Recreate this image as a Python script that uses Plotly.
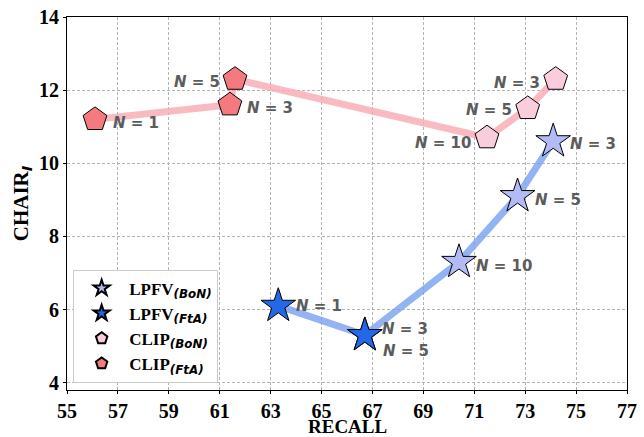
import plotly.graph_objects as go

# ---- data ----
lpfv_bon_recall = [70.4, 72.7, 74.1]
lpfv_bon_chair = [7.3, 9.1, 10.6]
lpfv_bon_n = [10, 5, 3]

lpfv_fta_recall = [63.3, 66.7, 66.7]
lpfv_fta_chair = [6.1, 5.3, 5.3]
lpfv_fta_n = [1, 3, 5]

clip_bon_recall = [71.5, 73.1, 74.2]
clip_bon_chair = [10.7, 11.5, 12.3]
clip_bon_n = [10, 5, 3]

clip_fta_recall = [56.1, 61.4, 61.6]
clip_fta_chair = [11.2, 11.6, 12.3]
clip_fta_n = [1, 3, 5]

x_ticks = list(range(55, 78, 2))
y_ticks = [4, 6, 8, 10, 12, 14]

SERIF = "Liberation Serif"
SANS = "DejaVu Sans"

fig = go.Figure()

# connecting lines
fig.add_trace(go.Scatter(
    x=lpfv_fta_recall + lpfv_bon_recall, y=lpfv_fta_chair + lpfv_bon_chair,
    mode="lines", line=dict(color="rgba(120,160,240,0.8)", width=7),
    showlegend=False, hoverinfo="skip"))
fig.add_trace(go.Scatter(
    x=clip_fta_recall + clip_bon_recall, y=clip_fta_chair + clip_bon_chair,
    mode="lines", line=dict(color="rgba(248,170,178,0.8)", width=7),
    showlegend=False, hoverinfo="skip"))

def sub(name, s):
    return (f"<b>{name}</b><sub><span style='font-family:{SANS}'><b><i>({s})</i></b></span></sub>")

series = [
    (lpfv_bon_recall, lpfv_bon_chair, "star", "#b3bbf7", 26, sub("LPFV", "BoN")),
    (lpfv_fta_recall, lpfv_fta_chair, "star", "#2468e8", 26, sub("LPFV", "FtA")),
    (clip_bon_recall, clip_bon_chair, "pentagon", "#f9cddb", 25, sub("CLIP", "BoN")),
    (clip_fta_recall, clip_fta_chair, "pentagon", "#f47a80", 25, sub("CLIP", "FtA")),
]
for xs, ys, sym, col, sz, name in series:
    fig.add_trace(go.Scatter(
        x=xs, y=ys, mode="markers", name=name,
        marker=dict(symbol=sym, size=sz, color=col, line=dict(color="black", width=1)),
    ))

label_font = dict(family=SANS, size=15, color="#5c5c5c")
def add_labels(xs, ys, ns, places):
    for x, y, n, (side, dx, dy) in zip(xs, ys, ns, places):
        fig.add_annotation(
            x=x, y=y, text=f"<b><i>N</i> = {n}</b>", showarrow=False,
            xanchor="left" if side == "r" else "right", yanchor="middle",
            xshift=dx, yshift=dy, font=label_font)

add_labels(lpfv_bon_recall, lpfv_bon_chair, lpfv_bon_n,
           [("r", 15, -4), ("r", 15, -4), ("r", 15, -3)])
add_labels(lpfv_fta_recall, lpfv_fta_chair, lpfv_fta_n,
           [("r", 16, 0), ("r", 15, 6), ("r", 16, -16)])
add_labels(clip_bon_recall, clip_bon_chair, clip_bon_n,
           [("l", -14, -5), ("l", -14, -2), ("l", -14, -4)])
add_labels(clip_fta_recall, clip_fta_chair, clip_fta_n,
           [("r", 16, -4), ("r", 15, -3), ("l", -13, -3)])

axis_common = dict(
    showline=True, linecolor="black", linewidth=1.2, mirror=True,
    ticks="outside", ticklen=3, tickcolor="black",
    showgrid=True, gridcolor="#b4b4b4", griddash="3px,2px", gridwidth=0.8,
    zeroline=False, automargin=False,
    tickfont=dict(family=SERIF, size=20, color="black"),
)

fig.update_xaxes(range=[55, 77], tickvals=x_ticks,
                 ticktext=[f"<b>{v}</b>" for v in x_ticks],
                 **axis_common)
fig.update_yaxes(range=[3.8, 14], tickvals=y_ticks,
                 ticktext=[f"<b>{v}</b>" for v in y_ticks],
                 title=dict(text=f"<b>CHAIR</b><sub><span style='font-family:{SANS}'><b><i>I</i></b></span></sub>",
                            font=dict(family=SERIF, size=21, color="black"), standoff=4),
                 **axis_common)

# x-axis title placed below the tick labels
fig.add_annotation(x=0.5, y=-0.099, xref="paper", yref="paper",
                   text="<b>RECALL</b>", showarrow=False,
                   xanchor="center", yanchor="middle",
                   font=dict(family=SERIF, size=19, color="black"))

fig.update_layout(
    width=644, height=437,
    margin=dict(l=67, r=17, t=17, b=47),
    plot_bgcolor="white", paper_bgcolor="white",
    legend=dict(x=0.011, y=0.02, xanchor="left", yanchor="bottom",
                bgcolor="white", bordercolor="#cccccc", borderwidth=1,
                font=dict(family=SERIF, size=17, color="black"),
                itemsizing="constant", itemwidth=45, tracegroupgap=0),
)

fig.write_html("out.html", config={"displayModeBar": False},
               post_script="document.body.style.margin='0';document.body.style.padding='0';")
